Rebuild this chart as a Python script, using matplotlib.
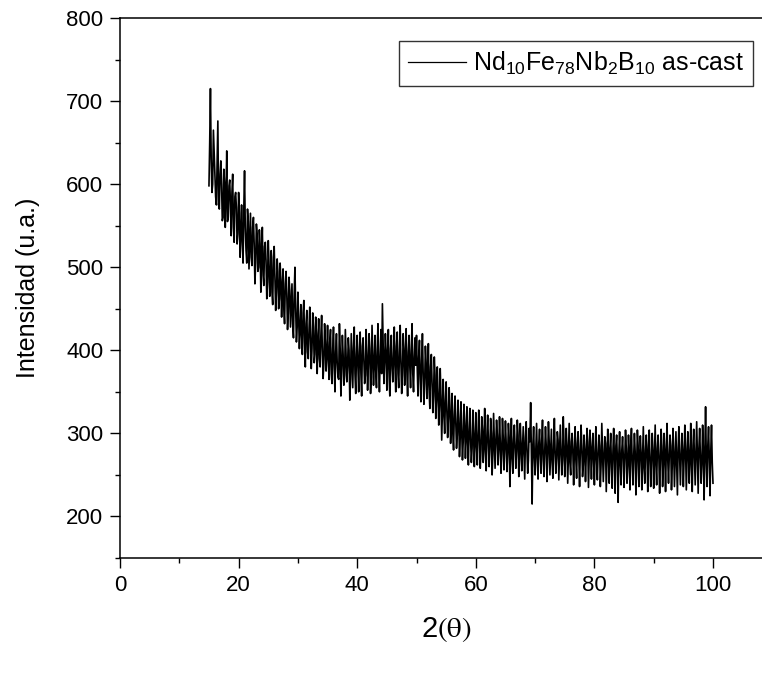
import numpy as np
import matplotlib
matplotlib.use("Agg")
import matplotlib.pyplot as plt
from matplotlib.ticker import MultipleLocator

plt.rcParams['font.family'] = ['Liberation Sans', 'DejaVu Sans']
plt.rcParams['mathtext.fontset'] = 'stix'

# 2theta grid of the scan (deg): readings every 0.25 deg plus the half-steps in between
two_theta_start = 15.0
two_theta_step = 0.25

# intensity at 15.00, 15.25, ... 100.00
intensity = [
    # 15 - 19.75
    598, 715, 590, 665, 612, 575, 676, 570, 628, 556, 618, 548, 640, 560, 605, 538, 612, 530, 590, 528,
    # 20 - 24.75
    590, 512, 575, 505, 616, 520, 570, 498, 565, 502, 560, 480, 552, 495, 545, 470, 548, 478, 530, 462,
    # 25 - 29.75
    532, 465, 520, 455, 525, 448, 510, 450, 505, 440, 498, 432, 495, 425, 488, 428, 480, 415, 500, 410,
    # 30 - 34.75
    470, 402, 455, 395, 460, 380, 448, 390, 452, 378, 445, 385, 440, 372, 438, 380, 442, 366, 432, 375,
    # 35 - 39.75
    430, 365, 425, 360, 428, 350, 420, 368, 432, 345, 418, 358, 425, 362, 415, 340, 420, 355, 428, 348,
    # 40 - 44.75
    418, 350, 422, 345, 415, 360, 425, 352, 420, 348, 430, 358, 418, 355, 432, 350, 425, 456, 360, 420,
    # 45 - 49.75
    352, 425, 345, 418, 362, 428, 350, 422, 355, 430, 348, 420, 358, 426, 345, 418, 355, 432, 350, 415,
    # 50 - 54.75
    418, 345, 412, 338, 420, 335, 405, 342, 408, 330, 395, 325, 392, 318, 380, 310, 378, 292, 365, 300,
    # 55 - 59.75
    362, 295, 355, 288, 348, 280, 345, 282, 340, 272, 338, 268, 335, 270, 332, 262, 330, 265, 328, 260,
    # 60 - 64.75
    325, 262, 328, 258, 320, 265, 330, 255, 322, 260, 318, 250, 324, 258, 316, 262, 320, 252, 318, 256,
    # 65 - 69.75
    315, 254, 312, 236, 318, 252, 310, 258, 316, 248, 312, 255, 308, 245, 314, 252, 306, 337, 215, 308,
    # 70 - 74.75
    250, 312, 245, 305, 252, 316, 248, 308, 242, 314, 250, 305, 246, 318, 252, 302, 244, 310, 250, 320,
    # 75 - 79.75
    248, 306, 240, 312, 250, 300, 238, 308, 246, 302, 236, 310, 248, 298, 242, 306, 235, 304, 245, 300,
    # 80 - 84.75
    238, 308, 244, 298, 236, 312, 242, 296, 230, 305, 240, 300, 234, 306, 228, 298, 217, 302, 238, 296,
    # 85 - 89.75
    235, 304, 240, 298, 232, 306, 238, 300, 226, 304, 236, 297, 232, 308, 240, 298, 230, 304, 236, 300,
    # 90 - 94.75
    234, 310, 238, 298, 228, 305, 236, 300, 230, 312, 240, 298, 232, 306, 236, 302, 226, 308, 238, 300,
    # 95 - 100
    236, 310, 232, 302, 240, 312, 230, 305, 238, 314, 228, 306, 240, 310, 220, 332, 236, 308, 225, 310,
    240,
]

# intensity at the half-steps 15.125, 15.375, ... 99.875
intensity_mid = [
    650, 630, 600, 640, 585, 628, 575, 612, 600, 560, 602, 590, 555, 598, 575, 590, 548, 585, 572, 540,
    565, 540, 530, 570, 548, 505, 555, 530, 512, 548, 528, 505, 540, 500, 528, 515, 490, 525, 508, 482,
    505, 490, 470, 512, 488, 470, 495, 462, 485, 475, 450, 480, 468, 445, 472, 455, 432, 468, 450, 428,
    440, 425, 418, 445, 410, 432, 398, 425, 415, 402, 428, 395, 420, 408, 390, 418, 400, 385, 410, 395,
    388, 410, 372, 402, 380, 398, 385, 365, 402, 378, 395, 370, 392, 380, 400, 365, 388, 402, 372, 395,
    380, 398, 372, 405, 388, 370, 395, 382, 402, 368, 392, 385, 375, 400, 380, 392, 372, 410, 385, 398,
    395, 370, 402, 378, 392, 380, 405, 372, 398, 385, 370, 402, 388, 375, 398, 380, 400, 372, 392, 382,
    378, 392, 365, 388, 372, 360, 385, 368, 352, 380, 358, 345, 370, 340, 350, 335, 345, 330, 322, 340,
    325, 318, 335, 310, 300, 322, 312, 298, 318, 295, 305, 290, 312, 298, 288, 305, 292, 282, 300, 290,
    285, 300, 292, 280, 305, 288, 278, 298, 290, 282, 300, 275, 292, 285, 298, 280, 290, 275, 295, 282,
    288, 275, 295, 282, 270, 292, 285, 278, 298, 270, 288, 282, 275, 295, 280, 268, 290, 278, 285, 272,
    282, 270, 288, 275, 292, 268, 280, 285, 272, 290, 278, 265, 285, 278, 270, 292, 275, 282, 268, 288,
    272, 285, 278, 265, 290, 275, 280, 268, 288, 272, 278, 285, 262, 280, 275, 290, 268, 278, 283, 265,
    280, 268, 275, 285, 262, 278, 270, 288, 265, 275, 282, 260, 278, 270, 285, 268, 275, 262, 280, 272,
    268, 282, 260, 275, 285, 265, 272, 278, 262, 285, 270, 275, 268, 258, 280, 272, 285, 265, 270, 278,
    275, 262, 282, 270, 268, 285, 262, 275, 280, 268, 272, 285, 260, 278, 270, 265, 282, 272, 268, 280,
    270, 282, 265, 278, 272, 262, 285, 270, 275, 268, 282, 272, 262, 280, 275, 268, 285, 270, 278, 265,
]

x_main = two_theta_start + two_theta_step * np.arange(len(intensity))
x_mid = two_theta_start + two_theta_step / 2 + two_theta_step * np.arange(len(intensity_mid))
two_theta = np.concatenate([x_main, x_mid])
counts = np.concatenate([intensity, intensity_mid])
order = np.argsort(two_theta)
two_theta = two_theta[order]
counts = counts[order]

fig = plt.figure(figsize=(7.62, 6.79), dpi=100)
ax = fig.add_axes([0.1575, 0.1782, 0.856, 0.7953])

ax.plot(two_theta, counts, color='black', lw=1.2,
        label=r'$\mathregular{Nd_{10}Fe_{78}Nb_{2}B_{10}}$ as-cast')

ax.set_xlim(0, 110)
ax.set_ylim(150, 800)
ax.xaxis.set_major_locator(MultipleLocator(20))
ax.xaxis.set_minor_locator(MultipleLocator(10))
ax.yaxis.set_major_locator(MultipleLocator(100))
ax.yaxis.set_minor_locator(MultipleLocator(50))
ax.tick_params(which='major', direction='out', length=7, width=1, labelsize=16, pad=5,
               top=False, right=False)
ax.tick_params(which='minor', direction='out', length=3.6, width=1,
               top=False, right=False)
for s in ax.spines.values():
    s.set_linewidth(1.1)

ax.set_xlabel(r'2$\mathrm{(\theta)}$', fontsize=21, labelpad=14)
ax.set_ylabel('Intensidad (u.a.)', fontsize=18, labelpad=19)

leg = ax.legend(loc='upper right', bbox_to_anchor=(0.988, 0.9396),
                bbox_transform=fig.transFigure, borderaxespad=0,
                fontsize=18, fancybox=False, edgecolor='black',
                handlelength=2.3, handletextpad=0.3, borderpad=0.35)
leg.get_frame().set_linewidth(1.0)
for h in leg.get_lines():
    h.set_linewidth(0.9)

fig.savefig('out.png', dpi=100)
